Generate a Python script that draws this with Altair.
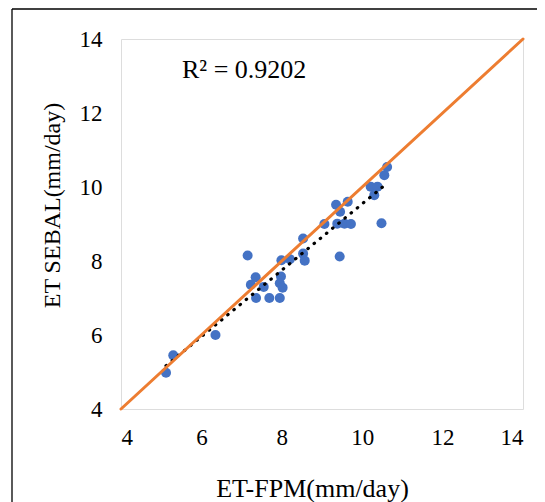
import altair as alt
import pandas as pd

# ET-FPM (x) and ET SEBAL (y), mm/day
fpm = [5.12, 5.30, 6.35, 7.15, 7.35, 7.23, 7.55, 7.36, 7.69, 7.95,
       7.98, 7.95, 8.02, 7.99, 8.20, 8.53, 8.53, 8.57, 9.06, 9.38,
       9.56, 9.72, 9.35, 9.64, 9.45, 9.44, 10.21, 10.38, 10.30, 10.48,
       10.55, 10.62]
sebal = [4.98, 5.45, 6.00, 8.15, 7.56, 7.36, 7.30, 7.00, 7.00, 7.00,
         7.58, 7.40, 7.28, 8.02, 8.05, 8.61, 8.20, 8.01, 9.00, 9.01,
         9.01, 9.00, 9.52, 9.60, 9.33, 8.12, 10.01, 10.01, 9.78, 9.02,
         10.32, 10.54]
line_x = [4, 14]
line_y = [4, 14]
ticks = [4, 6, 8, 10, 12, 14]
r2_text = "R² = 0.9202"
x_title = "ET-FPM(mm/day)"
y_title = "ET SEBAL(mm/day)"

FONT = "Liberation Serif"

df = pd.DataFrame({"fpm": fpm, "sebal": sebal})
ldf = pd.DataFrame({"fpm": line_x, "sebal": line_y})
one = pd.DataFrame({"a": [0]})

xs = alt.Scale(domain=[4, 14], nice=False, zero=False)
ys = alt.Scale(domain=[4, 14], nice=False, zero=False)

xax = alt.Axis(values=ticks, grid=False, ticks=False, domain=False,
               labelFont=FONT, labelFontSize=23, labelColor="#000",
               labelPadding=28, labelBaseline="middle",
               title=x_title, titleFont=FONT, titleFontSize=26,
               titleFontWeight="normal", titleColor="#000",
               titleX=191, titleY=87, titleBaseline="alphabetic",
               titleAlign="center")
yax = alt.Axis(values=ticks, grid=False, ticks=False, domain=False,
               labelFont=FONT, labelFontSize=23, labelColor="#000",
               labelPadding=19, labelBaseline="middle",
               title=y_title, titleFont=FONT, titleFontSize=24,
               titleFontWeight="normal", titleColor="#000",
               titleX=-62, titleY=166, titleAngle=-90,
               titleBaseline="alphabetic", titleAlign="center")

# outer chart-area frame: only its left and top edges are inside the picture
frame_left = alt.Chart(one).mark_rule(color="#000", strokeWidth=1.3).encode(
    x=alt.value(-109), y=alt.value(-30), y2=alt.value(600))
frame_top = alt.Chart(one).mark_rule(color="#000", strokeWidth=1.3).encode(
    x=alt.value(-109), x2=alt.value(600), y=alt.value(-30))

points = alt.Chart(df).mark_circle(size=100, color="#4472C4", opacity=1).encode(
    x=alt.X("fpm:Q", scale=xs, axis=xax),
    y=alt.Y("sebal:Q", scale=ys, axis=yax),
)

trend = alt.Chart(df).transform_regression("fpm", "sebal").mark_line(
    color="#000", strokeWidth=3.2, strokeDash=[0.5, 7.5], strokeCap="round"
).encode(x=alt.X("fpm:Q", scale=xs), y=alt.Y("sebal:Q", scale=ys))

oneone = alt.Chart(ldf).mark_line(
    color="#ED7D31", strokeWidth=3, strokeCap="round"
).encode(x=alt.X("fpm:Q", scale=xs), y=alt.Y("sebal:Q", scale=ys))

label = alt.Chart(pd.DataFrame({"t": [r2_text]})).mark_text(
    font=FONT, fontSize=26, color="#000", align="left", baseline="alphabetic"
).encode(x=alt.value(61), y=alt.value(39), text="t:N")

chart = alt.layer(frame_left, frame_top, points, trend, oneone, label).properties(
    width=402, height=370,
    autosize=alt.AutoSizeParams(type="none"),
    padding={"left": 113, "top": 31, "right": 14, "bottom": 93},
).configure_view(stroke="#000", strokeWidth=1).configure(background="white")

chart.save("out.html", embed_options={"renderer": "svg", "actions": False})
